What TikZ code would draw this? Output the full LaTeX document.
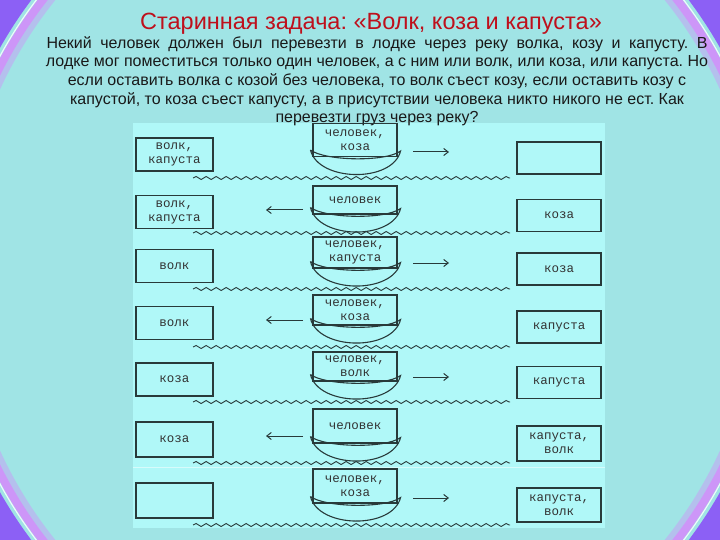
\documentclass[tikz,border=0pt]{standalone}
\usepackage{fontspec}
\setmainfont{Liberation Sans}
\newfontfamily\boxfont{Liberation Mono}
\usetikzlibrary{decorations.pathmorphing,arrows.meta}
\definecolor{sea}{RGB}{160,228,229}
\definecolor{panel}{RGB}{176,248,248}
\definecolor{titlered}{RGB}{190,16,28}
\definecolor{ink}{RGB}{40,58,58}
\definecolor{lilac}{RGB}{205,150,248}
\definecolor{violet}{RGB}{140,96,245}
\frenchspacing

\begin{document}
\begin{tikzpicture}[x=1pt,y=-1pt,
    box/.style={draw=ink,line width=1.1pt,inner sep=0pt,align=center,text=black!80,
      font=\boxfont\fontsize{12.5}{14}\selectfont},
    lbox/.style={box,minimum width=77,minimum height=33},
    rbox/.style={box,minimum width=84,minimum height=32},
    boat/.style={box,minimum width=84},
    hull/.style={draw=ink,line width=1.1pt},
    wave/.style={draw=ink,line width=.9pt,decorate,decoration={snake,segment length=10pt,amplitude=1.5pt}},
    move/.style={draw=ink,line width=1pt,-{Straight Barb[length=4.5pt,width=7pt]}}]
  \useasboundingbox (0,0) rectangle (720,540);
  \fill[sea] (0,0) rectangle (720,540);
  \begin{scope}
    \clip (0,0) rectangle (720,540);
    \fill[violet,even odd rule] (-200,-250) rectangle (920,790) (360,270) ellipse [x radius=418pt,y radius=437pt];
    \draw[lilac,opacity=.45,line width=8pt] (360,270) ellipse [x radius=403pt,y radius=422pt];
    \draw[lilac,line width=8pt] (360,270) ellipse [x radius=409pt,y radius=428pt];
    \draw[white,opacity=.8,line width=1.2pt] (360,270) ellipse [x radius=414pt,y radius=433pt];
  \end{scope}
  \fill[panel] (133,123) rectangle (605,528);
  \draw[white,opacity=.5,line width=.8pt] (133,467) -- (605,467);

  \node[text=titlered,font=\fontsize{23.5}{28}\selectfont,anchor=base] (title) at (371,30)
    {Старинная задача: «Волк, коза и капуста»};
  \node[font=\fontsize{16}{18.7}\selectfont,align=center,anchor=north,inner sep=0pt,text=black!90] (task) at (377,36)
    {\makebox[661pt][s]{Некий человек должен был перевезти в лодке через реку волка, козу и капусту. В}\\
     лодке мог поместиться только один человек, а с ним или волк, или коза, или капуста. Но\\
     если оставить волка с козой без человека, то волк съест козу, если оставить козу с\\
     капустой, то коза съест капусту, а в присутствии человека никто никого не ест. Как\\
     перевезти груз через реку?};

  \node[lbox] (L1) at (174.5,154.5) {волк,\\капуста};
  \node[boat,minimum height=33] (B1) at (355,140) {человек,\\коза};
  \node[rbox] (R1) at (559,158) {};
  \coordinate (a1) at (413,152);
  \coordinate (e1) at (449,152);

  \node[lbox] (L2) at (174.5,212) {волк,\\капуста};
  \node[boat,minimum height=28] (B2) at (355,200) {человек};
  \node[rbox] (R2) at (559,215.5) {коза};
  \coordinate (a2) at (303,210);
  \coordinate (e2) at (266,210);

  \node[lbox] (L3) at (174.5,266) {волк};
  \node[boat,minimum height=31] (B3) at (355,252.5) {человек,\\капуста};
  \node[rbox] (R3) at (559,269) {коза};
  \coordinate (a3) at (413,263);
  \coordinate (e3) at (449,263);

  \node[lbox] (L4) at (174.5,323) {волк};
  \node[boat,minimum height=30] (B4) at (355,310) {человек,\\коза};
  \node[rbox] (R4) at (559,327) {капуста};
  \coordinate (a4) at (303,320);
  \coordinate (e4) at (266,320);

  \node[lbox] (L5) at (174.5,379.5) {коза};
  \node[boat,minimum height=29] (B5) at (355,366.5) {человек,\\волк};
  \node[rbox] (R5) at (559,382.5) {капуста};
  \coordinate (a5) at (413,377);
  \coordinate (e5) at (449,377);

  \node[lbox,minimum height=35] (L6) at (174.5,439.5) {коза};
  \node[boat,minimum height=34] (B6) at (355,426) {человек};
  \node[rbox,minimum height=35] (R6) at (559,443.5) {капуста,\\волк};
  \coordinate (a6) at (303,436);
  \coordinate (e6) at (266,436);

  \node[lbox,minimum height=35] (L7) at (174.5,500.5) {};
  \node[boat,minimum height=34] (B7) at (355,486) {человек,\\коза};
  \node[rbox,minimum height=34] (R7) at (559,505) {капуста,\\волк};
  \coordinate (a7) at (413,498);
  \coordinate (e7) at (449,498);

  \foreach \i in {1,...,7}
    \draw[hull] ([shift={(-2,-7)}]B\i.south west) .. controls +(8,32) and +(-8,32) .. ([shift={(3,-6)}]B\i.south east)
      .. controls +(-15,11) and +(15,11) .. ([shift={(-2,-7)}]B\i.south west);
  \foreach \i in {1,...,7}
    \draw[move] (a\i) -- (e\i);
  \foreach \y in {178,233,289,347,402,463,525}
    \draw[wave] (193,\y) -- (510,\y);
\end{tikzpicture}
\end{document}
